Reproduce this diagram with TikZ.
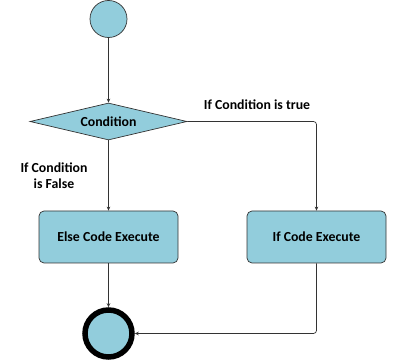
\documentclass[tikz,border=0pt]{standalone}
\usepackage{fontspec}
\setmainfont{Carlito}
\usetikzlibrary{shapes.geometric,arrows.meta}
\definecolor{fillblue}{HTML}{92CDDC}
\definecolor{linegray}{HTML}{333333}
\begin{document}
\begin{tikzpicture}[x=1pt,y=-1pt,
  every node/.style={font=\bfseries\fontsize{13.8}{16}\selectfont},
  conn/.style={draw=linegray,line width=0.7pt,-{Stealth[length=4pt,width=3.5pt]},rounded corners=3pt},
  actbox/.style={draw=linegray,fill=fillblue,rounded corners=5pt,minimum width=139pt,minimum height=52pt,line width=0.7pt},
  cond/.style={diamond,draw=linegray,fill=fillblue,aspect=4.2,minimum width=157pt,minimum height=37pt,inner sep=0pt,line width=0.7pt}]
\useasboundingbox (0,0) rectangle (400,361);
\node[circle,draw=linegray,fill=fillblue,minimum size=37pt,inner sep=0pt,line width=0.7pt] (start) at (108.5,19) {};
\node[cond] (c) at (108.5,121.5) {Condition};
\node[actbox] (else) at (108.5,237) {Else Code Execute};
\node[actbox] (if) at (316.5,237) {If Code Execute};
\node[circle,draw=black,fill=fillblue,minimum size=47pt,inner sep=0pt,line width=5.5pt] (end) at (108.5,333.5) {};
\node (tl) at (257,105) {If Condition is true};
\node[align=center] (fl) at (54,176) {If Condition\\is False};
\draw[conn] (start) -- (c.north);
\draw[conn] (c.south) -- (else.north);
\draw[conn] (c.east) -| (if.north);
\draw[conn] (else.south) -- (end.north);
\draw[conn] (if.south) |- (end.east);
\end{tikzpicture}
\end{document}
